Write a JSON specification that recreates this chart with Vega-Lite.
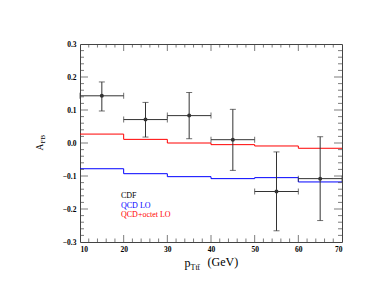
{
  "$schema": "https://vega.github.io/schema/vega-lite/v6.json",
  "width": 262,
  "height": 198,
  "autosize": {"type": "none"},
  "padding": {"left": 80, "top": 44, "right": 43, "bottom": 56},
  "background": "white",
  "config": {
    "view": {"stroke": "#444", "strokeWidth": 1},
    "axis": {"labelFont": "Liberation Serif", "titleFont": "Liberation Serif", "labelFontWeight": "bold", "labelFontSize": 7.5, "labelColor": "#000", "domain": false, "ticks": false, "grid": false, "titleFontWeight": "normal", "titleColor": "#000"}
  },
  "datasets": {
    "cdf": [
      {"x": 15, "xlo": 10, "xhi": 20, "y": 0.143, "ylo": 0.097, "yhi": 0.185},
      {"x": 25, "xlo": 20, "xhi": 30, "y": 0.071, "ylo": 0.018, "yhi": 0.123},
      {"x": 35, "xlo": 30, "xhi": 40, "y": 0.083, "ylo": 0.013, "yhi": 0.153},
      {"x": 45, "xlo": 40, "xhi": 50, "y": 0.010, "ylo": -0.083, "yhi": 0.102},
      {"x": 55, "xlo": 50, "xhi": 60, "y": -0.147, "ylo": -0.266, "yhi": -0.027},
      {"x": 65, "xlo": 60, "xhi": 70, "y": -0.108, "ylo": -0.235, "yhi": 0.019}
    ],
    "theory": [
      {"series": "QCD LO", "edge": 10, "value": -0.078},
      {"series": "QCD LO", "edge": 20, "value": -0.093},
      {"series": "QCD LO", "edge": 30, "value": -0.102},
      {"series": "QCD LO", "edge": 40, "value": -0.108},
      {"series": "QCD LO", "edge": 50, "value": -0.105},
      {"series": "QCD LO", "edge": 60, "value": -0.118},
      {"series": "QCD LO", "edge": 70, "value": -0.118},
      {"series": "QCD+octet LO", "edge": 10, "value": 0.027},
      {"series": "QCD+octet LO", "edge": 20, "value": 0.011},
      {"series": "QCD+octet LO", "edge": 30, "value": 0.0},
      {"series": "QCD+octet LO", "edge": 40, "value": -0.005},
      {"series": "QCD+octet LO", "edge": 50, "value": -0.009},
      {"series": "QCD+octet LO", "edge": 60, "value": -0.016},
      {"series": "QCD+octet LO", "edge": 70, "value": -0.016}
    ],
    "xmajor": [{"v": 20}, {"v": 30}, {"v": 40}, {"v": 50}, {"v": 60}],
    "xminor": [{"v": 12}, {"v": 14}, {"v": 16}, {"v": 18}, {"v": 22}, {"v": 24}, {"v": 26}, {"v": 28}, {"v": 32}, {"v": 34}, {"v": 36}, {"v": 38}, {"v": 42}, {"v": 44}, {"v": 46}, {"v": 48}, {"v": 52}, {"v": 54}, {"v": 56}, {"v": 58}, {"v": 62}, {"v": 64}, {"v": 66}, {"v": 68}],
    "ymajor": [{"v": -0.2}, {"v": -0.1}, {"v": 0}, {"v": 0.1}, {"v": 0.2}],
    "yminor": [{"v": -0.28}, {"v": -0.26}, {"v": -0.24}, {"v": -0.22}, {"v": -0.18}, {"v": -0.16}, {"v": -0.14}, {"v": -0.12}, {"v": -0.08}, {"v": -0.06}, {"v": -0.04}, {"v": -0.02}, {"v": 0.02}, {"v": 0.04}, {"v": 0.06}, {"v": 0.08}, {"v": 0.12}, {"v": 0.14}, {"v": 0.16}, {"v": 0.18}, {"v": 0.22}, {"v": 0.24}, {"v": 0.26}, {"v": 0.28}]
  },
  "resolve": {"axis": {"x": "independent", "y": "independent"}},
  "layer": [
    {
      "mark": {"type": "rule", "color": "#444", "strokeWidth": 1},
      "encoding": {"y": {"datum": 0, "type": "quantitative", "scale": {"domain": [-0.3, 0.3], "nice": false, "zero": false}, "axis": null}}
    },
    {
      "data": {"name": "theory"},
      "mark": {"type": "line", "interpolate": "step-after", "strokeWidth": 1},
      "encoding": {
        "x": {"field": "edge", "type": "quantitative", "scale": {"domain": [10, 70], "nice": false, "zero": false},
          "axis": {"orient": "bottom", "values": [10, 20, 30, 40, 50, 60, 70], "labelPadding": 3, "title": "p", "titleFontSize": 12, "titleAlign": "left", "titleBaseline": "alphabetic", "titleX": 104, "titleY": 24, "titleAnchor": null}},
        "y": {"field": "value", "type": "quantitative", "scale": {"domain": [-0.3, 0.3], "nice": false, "zero": false},
          "axis": {"orient": "left", "values": [-0.3, -0.2, -0.1, 0, 0.1, 0.2, 0.3], "format": ".1f", "labelPadding": 4, "title": "A", "titleFontSize": 9.5, "titleAngle": 270, "titleAlign": "left", "titleBaseline": "alphabetic", "titleX": -38, "titleY": 106}},
        "color": {"field": "series", "type": "nominal", "scale": {"domain": ["CDF", "QCD LO", "QCD+octet LO"], "range": ["#000000", "#0000ff", "#ff0000"]},
          "legend": {"orient": "none", "legendX": 33, "legendY": 148, "title": null, "symbolSize": 0, "symbolStrokeWidth": 0, "symbolOpacity": 0, "labelOffset": 0, "labelFont": "Liberation Serif", "labelFontSize": 8, "rowPadding": 1.5, "padding": 0,
            "encode": {"labels": {"update": {"fill": {"signal": "datum.value === 'QCD LO' ? '#0000ff' : datum.value === 'QCD+octet LO' ? '#ff0000' : '#000000'"}}}}}}
      }
    },
    {
      "data": {"name": "cdf"},
      "mark": {"type": "rule", "color": "#333", "strokeWidth": 1},
      "encoding": {
        "x": {"field": "x", "type": "quantitative",
          "axis": {"orient": "bottom", "values": [], "labels": false, "title": "Ttt\u0304", "titleFontSize": 8, "titleAlign": "left", "titleBaseline": "alphabetic", "titleX": 110, "titleY": 27, "titleAnchor": null}},
        "y": {"field": "ylo", "type": "quantitative",
          "axis": {"orient": "left", "values": [], "labels": false, "title": "FB", "titleFontSize": 7, "titleAngle": 270, "titleAlign": "left", "titleBaseline": "alphabetic", "titleX": -36, "titleY": 99}},
        "y2": {"field": "yhi"}
      }
    },
    {
      "data": {"name": "cdf"},
      "mark": {"type": "rule", "color": "#333", "strokeWidth": 1},
      "encoding": {
        "x": {"field": "xlo", "type": "quantitative",
          "axis": {"orient": "top", "values": [], "labels": false, "title": "(GeV)", "titleFontSize": 12, "titleAlign": "left", "titleBaseline": "alphabetic", "titleX": 127, "titleY": 221, "titleAnchor": null}},
        "x2": {"field": "xhi"},
        "y": {"field": "y", "type": "quantitative", "axis": null}
      }
    },
    {
      "data": {"name": "cdf"},
      "mark": {"type": "point", "filled": true, "color": "#333", "size": 16, "opacity": 1},
      "encoding": {
        "x": {"field": "x", "type": "quantitative", "axis": null},
        "y": {"field": "y", "type": "quantitative", "axis": null}
      }
    },
    {
      "data": {"name": "cdf"},
      "mark": {"type": "tick", "orient": "horizontal", "color": "#333", "size": 6, "thickness": 1},
      "encoding": {"x": {"field": "x", "type": "quantitative", "axis": null}, "y": {"field": "yhi", "type": "quantitative", "axis": null}}
    },
    {
      "data": {"name": "cdf"},
      "mark": {"type": "tick", "orient": "horizontal", "color": "#333", "size": 6, "thickness": 1},
      "encoding": {"x": {"field": "x", "type": "quantitative", "axis": null}, "y": {"field": "ylo", "type": "quantitative", "axis": null}}
    },
    {
      "data": {"name": "cdf"},
      "mark": {"type": "tick", "orient": "vertical", "color": "#333", "size": 6, "thickness": 1},
      "encoding": {"x": {"field": "xlo", "type": "quantitative", "axis": null}, "y": {"field": "y", "type": "quantitative", "axis": null}}
    },
    {
      "data": {"name": "cdf"},
      "mark": {"type": "tick", "orient": "vertical", "color": "#333", "size": 6, "thickness": 1},
      "encoding": {"x": {"field": "xhi", "type": "quantitative", "axis": null}, "y": {"field": "y", "type": "quantitative", "axis": null}}
    },
    {
      "data": {"name": "xmajor"},
      "mark": {"type": "tick", "orient": "vertical", "color": "#444", "size": 7, "thickness": 1, "yOffset": -3.5},
      "encoding": {"x": {"field": "v", "type": "quantitative", "axis": null}, "y": {"datum": -0.3, "type": "quantitative", "axis": null}}
    },
    {
      "data": {"name": "xmajor"},
      "mark": {"type": "tick", "orient": "vertical", "color": "#444", "size": 7, "thickness": 1, "yOffset": 3.5},
      "encoding": {"x": {"field": "v", "type": "quantitative", "axis": null}, "y": {"datum": 0.3, "type": "quantitative", "axis": null}}
    },
    {
      "data": {"name": "xminor"},
      "mark": {"type": "tick", "orient": "vertical", "color": "#444", "size": 3.5, "thickness": 1, "yOffset": -1.75},
      "encoding": {"x": {"field": "v", "type": "quantitative", "axis": null}, "y": {"datum": -0.3, "type": "quantitative", "axis": null}}
    },
    {
      "data": {"name": "xminor"},
      "mark": {"type": "tick", "orient": "vertical", "color": "#444", "size": 3.5, "thickness": 1, "yOffset": 1.75},
      "encoding": {"x": {"field": "v", "type": "quantitative", "axis": null}, "y": {"datum": 0.3, "type": "quantitative", "axis": null}}
    },
    {
      "data": {"name": "ymajor"},
      "mark": {"type": "tick", "orient": "horizontal", "color": "#444", "size": 8, "thickness": 1, "xOffset": 4},
      "encoding": {"y": {"field": "v", "type": "quantitative", "axis": null}, "x": {"datum": 10, "type": "quantitative", "axis": null}}
    },
    {
      "data": {"name": "ymajor"},
      "mark": {"type": "tick", "orient": "horizontal", "color": "#444", "size": 8, "thickness": 1, "xOffset": -4},
      "encoding": {"y": {"field": "v", "type": "quantitative", "axis": null}, "x": {"datum": 70, "type": "quantitative", "axis": null}}
    },
    {
      "data": {"name": "yminor"},
      "mark": {"type": "tick", "orient": "horizontal", "color": "#444", "size": 4, "thickness": 1, "xOffset": 2},
      "encoding": {"y": {"field": "v", "type": "quantitative", "axis": null}, "x": {"datum": 10, "type": "quantitative", "axis": null}}
    },
    {
      "data": {"name": "yminor"},
      "mark": {"type": "tick", "orient": "horizontal", "color": "#444", "size": 4, "thickness": 1, "xOffset": -2},
      "encoding": {"y": {"field": "v", "type": "quantitative", "axis": null}, "x": {"datum": 70, "type": "quantitative", "axis": null}}
    }
  ]
}
